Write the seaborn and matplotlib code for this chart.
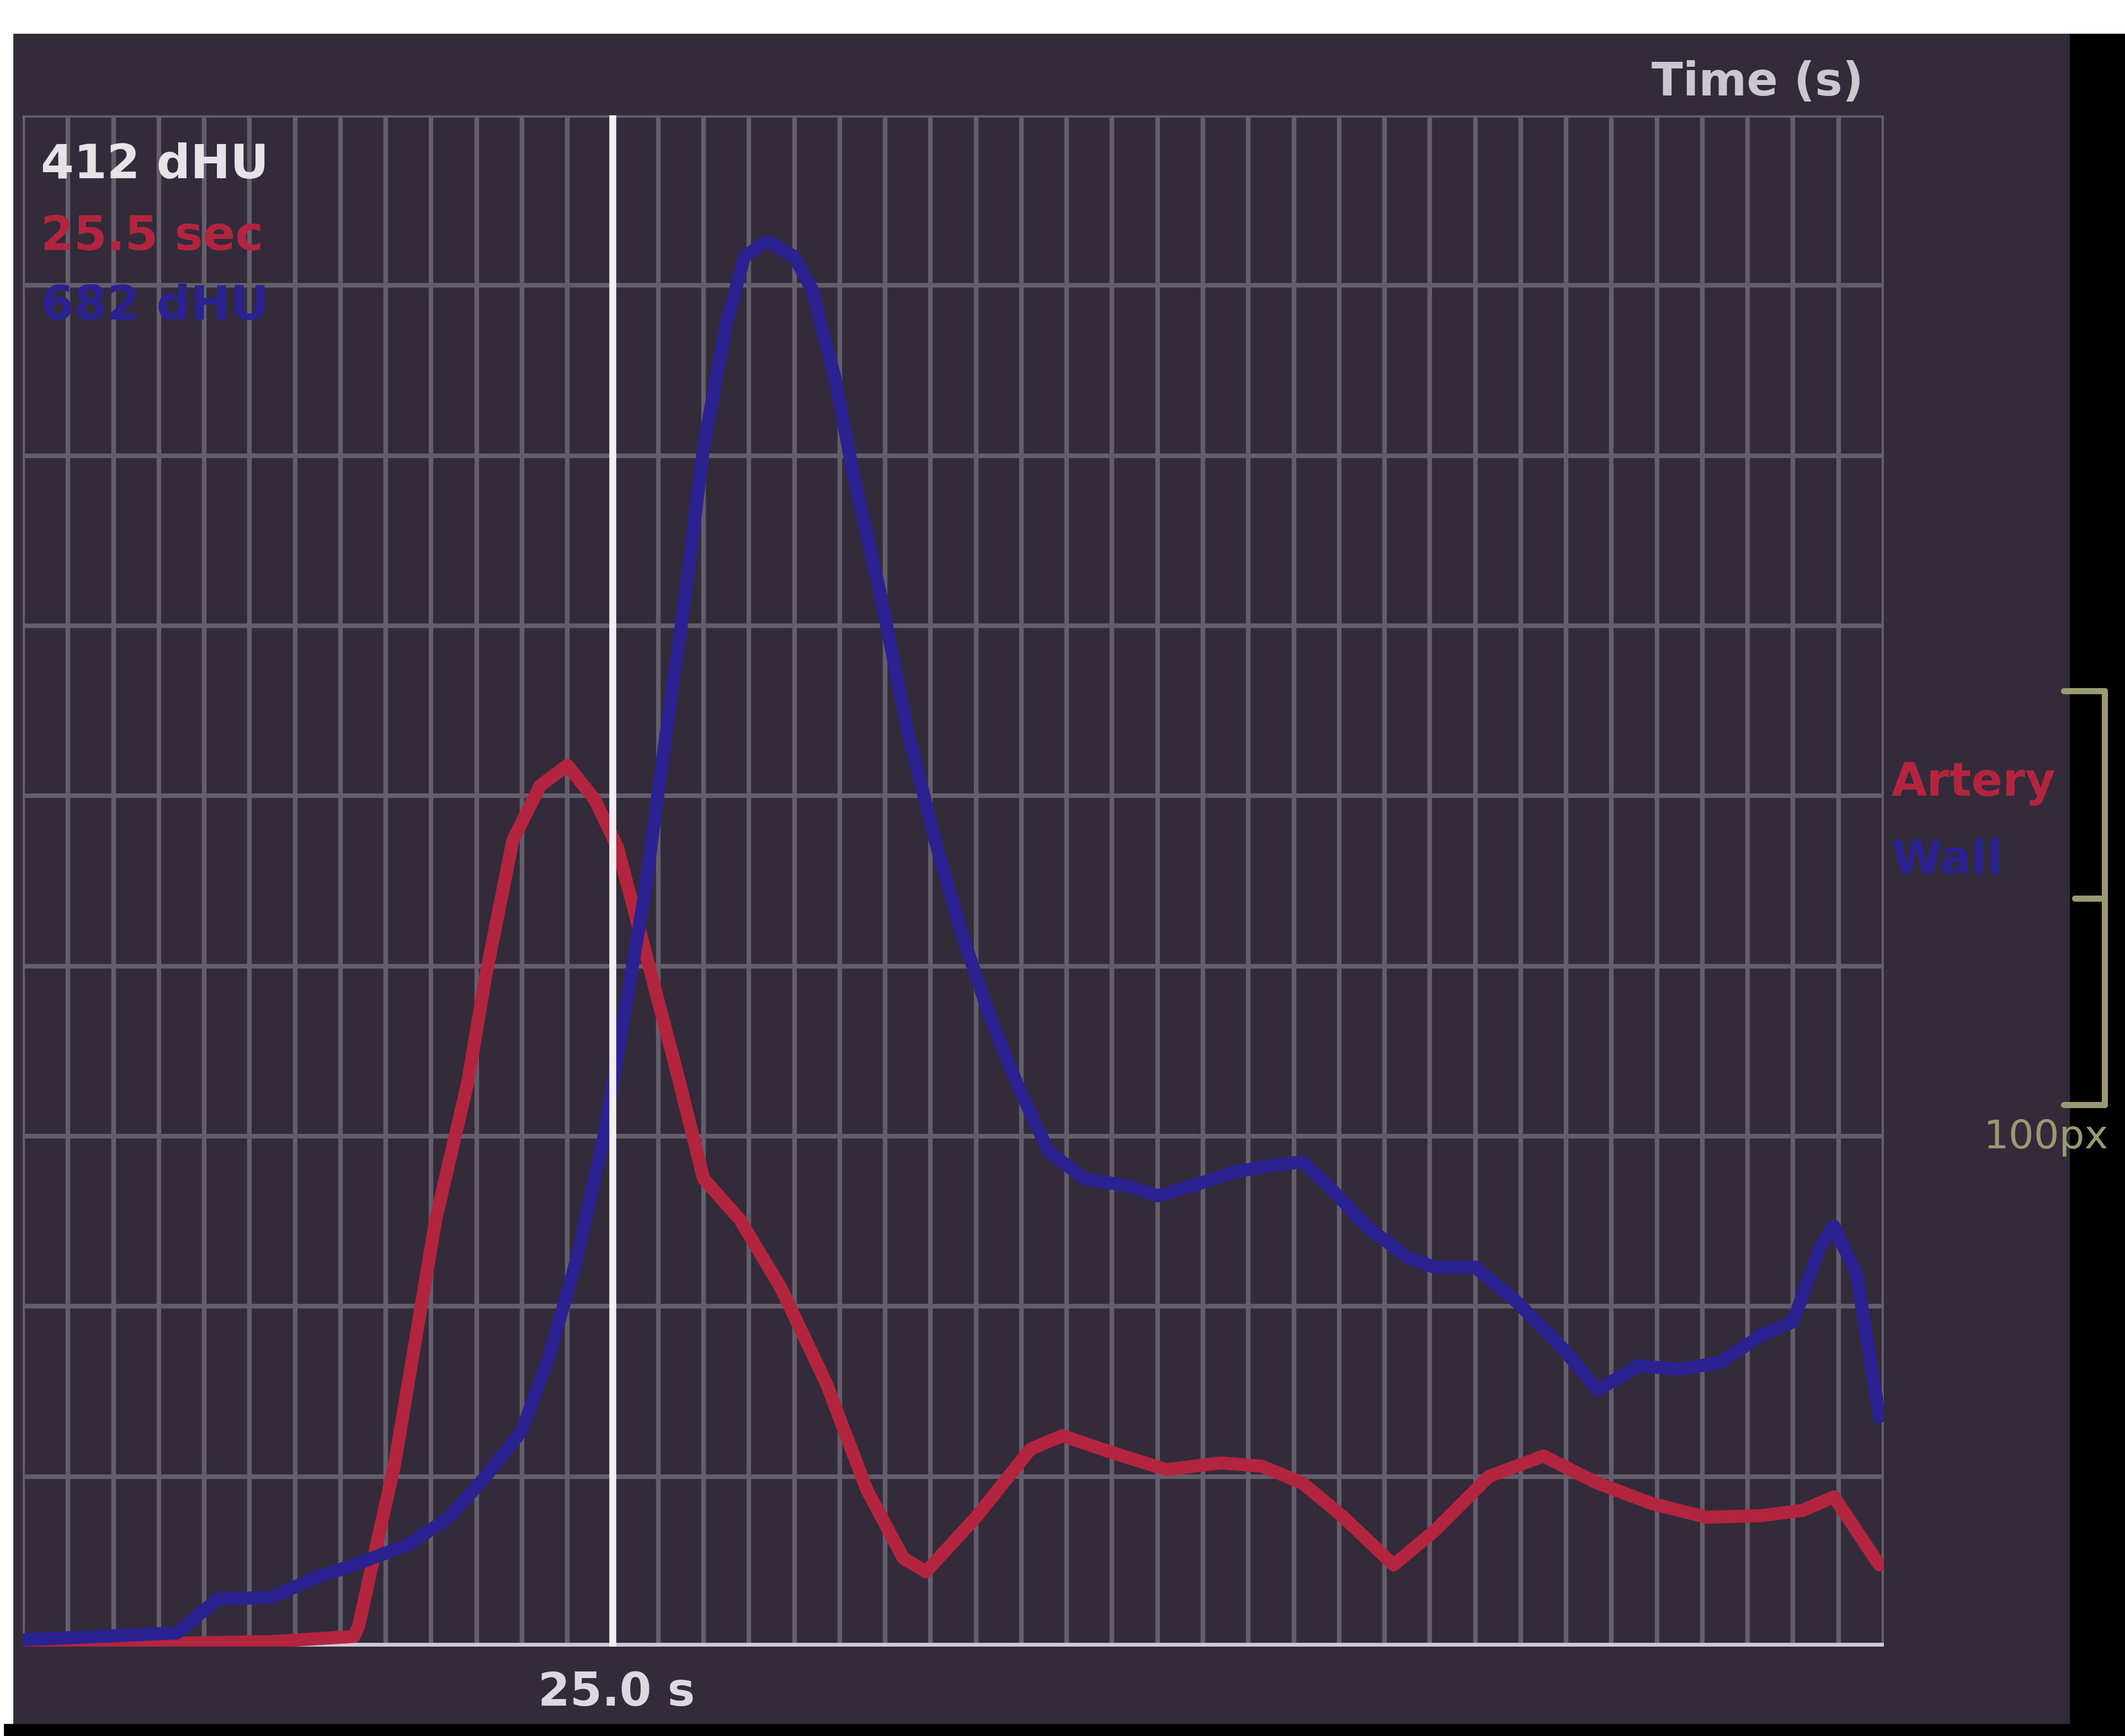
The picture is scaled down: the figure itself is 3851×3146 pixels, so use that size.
import numpy as np
import pandas as pd
import matplotlib
matplotlib.use("Agg")
import matplotlib.pyplot as plt
import seaborn as sns
from matplotlib.patches import Rectangle
from matplotlib.lines import Line2D

# time-density curves (time in s, enhancement in dHU)
artery_t = [12.0, 15.4, 17.5, 19.3, 19.4, 20.2, 21.1, 21.8, 22.2, 22.8, 23.4, 24.0,
            24.6, 25.1, 25.7, 26.4, 27.0, 27.8, 28.7, 29.7, 30.6, 31.4, 31.9, 33.0,
            34.2, 34.9, 36.0, 37.2, 38.4, 39.3, 40.2, 41.1, 42.2, 43.1, 44.3, 45.5,
            46.7, 47.9, 49.1, 50.3, 51.2, 51.9, 52.9]
artery_v = [0, 2, 3, 6, 12, 108, 251, 331, 394, 474, 506, 518,
            498, 470, 410, 339, 275, 251, 211, 155, 92, 52, 44, 76,
            116, 124, 114, 104, 108, 106, 96, 76, 48, 68, 100, 112,
            96, 84, 76, 77, 80, 88, 48]

wall_t = [12.0, 15.4, 16.3, 17.5, 18.4, 19.3, 20.5, 21.4, 22.2, 23.0, 23.6, 24.2,
          24.8, 25.2, 25.7, 26.1, 26.6, 27.0, 27.5, 27.9, 28.4, 29.0, 29.4, 29.9,
          30.3, 30.9, 31.5, 32.1, 32.7, 33.3, 33.9, 34.6, 35.4, 36.3, 37.0, 37.8,
          38.7, 39.6, 40.2, 40.9, 41.6, 42.5, 43.1, 44.0, 44.9, 45.8, 46.7, 47.6,
          48.5, 49.4, 50.3, 51.0, 51.6, 51.9, 52.4, 52.9]
wall_v = [4, 8, 28, 29, 40, 48, 60, 76, 100, 127, 171, 227,
          299, 363, 442, 522, 618, 705, 777, 817, 826, 817, 797, 745,
          689, 618, 538, 474, 418, 371, 331, 291, 275, 271, 265, 271,
          279, 283, 285, 267, 247, 229, 223, 223, 203, 179, 151, 165,
          163, 167, 183, 191, 235, 247, 219, 135]

cursor_t = 25.0
readout = ["412 dHU", "25.5 sec", "682 dHU"]
series_names = ["Artery", "Wall"]

bg = "#332b3a"
grid_c = "#645d6c"
red = "#b3253f"
blue = "#2b2292"
olive = "#9a9a72"

sns.set_theme(style="dark")
plt.rcParams['font.family'] = ['DejaVu Sans']

fig = plt.figure(figsize=(19.255, 15.73), dpi=200)
fig.patch.set_facecolor("white")

# screen panel + black border strips
fig.add_artist(Rectangle((25/3851, 0), (3752-25)/3851, 1-62/3146,
                         transform=fig.transFigure, color=bg, zorder=0))
fig.add_artist(Rectangle((3752/3851, 0), 1, 1-62/3146,
                         transform=fig.transFigure, color="black", zorder=0))
fig.add_artist(Rectangle((8/3851, 0), 1, 21/3146,
                         transform=fig.transFigure, color="black", zorder=0))

ax = fig.add_axes([41/3851, 1-2984/3146, (3414-41)/3851, (2984-209)/3146])
ax.set_facecolor(bg)

df_a = pd.DataFrame({"t": artery_t, "v": artery_v})
df_w = pd.DataFrame({"t": wall_t, "v": wall_v})

ax.set_xlim(12, 53)
ax.set_ylim(0, 900)
ax.set_xticks(np.arange(12, 54, 1))
ax.set_yticks(np.arange(0, 901, 100))
ax.grid(True, color=grid_c, lw=3)
ax.tick_params(length=0, labelbottom=False, labelleft=False)
for s in ax.spines.values():
    s.set_visible(False)
ax.axhline(0, color="#cdc8d1", lw=5, zorder=2)

sns.lineplot(data=df_a, x="t", y="v", color=red, lw=8.5, ax=ax, zorder=3, sort=False)
sns.lineplot(data=df_w, x="t", y="v", color=blue, lw=8.5, ax=ax, zorder=3, sort=False)
ax.axvline(cursor_t, color="#f2eef2", lw=4.5, zorder=4)
ax.set_xlabel("")
ax.set_ylabel("")

# readout in the top-left corner
txt_kw = dict(fontsize=31, fontweight="bold", va="center", ha="left")
fig.text(74/3851, 1-300/3146, readout[0], color="#e6e2e8", **txt_kw)
fig.text(74/3851, 1-430/3146, readout[1], color=red, **txt_kw)
fig.text(74/3851, 1-555/3146, readout[2], color=blue, **txt_kw)

fig.text(3377/3851, 1-150/3146, "Time (s)", color="#cbc7cf", fontsize=30,
         fontweight="bold", ha="right", va="center")
fig.text(1117/3851, 1-3068/3146, f"{cursor_t:.1f} s", color="#dcd8e0", fontsize=30,
         fontweight="bold", ha="center", va="center")

fig.text(3428/3851, 1-1420/3146, series_names[0], color=red, fontsize=30,
         fontweight="bold", ha="left", va="center")
fig.text(3428/3851, 1-1560/3146, series_names[1], color=blue, fontsize=30,
         fontweight="bold", ha="left", va="center")

# scale bracket on the right edge
bx = 3814/3851
ys = [1-1252/3146, 1-1628/3146, 1-2002/3146]
fig.add_artist(Line2D([bx, bx], [ys[0], ys[2]], transform=fig.transFigure, color=olive, lw=4))
for y0, x0 in zip(ys, [3740, 3760, 3740]):
    fig.add_artist(Line2D([x0/3851, bx], [y0, y0], transform=fig.transFigure, color=olive, lw=4))
fig.text(3820/3851, 1-2062/3146, "100px", color=olive, fontsize=26, ha="right", va="center")

fig.savefig("out.png", dpi=200, facecolor=fig.get_facecolor())
